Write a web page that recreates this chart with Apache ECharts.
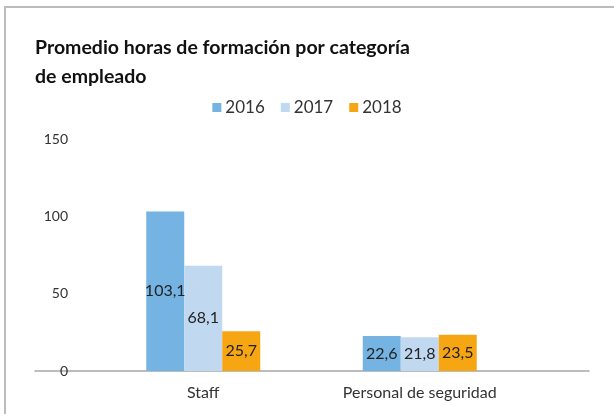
<!DOCTYPE html>
<html><head><meta charset="utf-8">
<script src="https://cdn.jsdelivr.net/npm/echarts@6/dist/echarts.min.js"></script>
<style>html,body{margin:0;padding:0;background:#fff}#c{width:614px;height:414px}</style>
</head><body><div id="c"></div>
<script>
const categories = ['Staff', 'Personal de seguridad'];
const years = ['2016', '2017', '2018'];
const v2016 = [103.1, 22.6];
const v2017 = [68.1, 21.8];
const v2018 = [25.7, 23.5];
const yTicks = [0, 50, 100, 150];
const colors = ['#74b3e2', '#c0d8f0', '#f7a613'];
const seriesValues = [v2016, v2017, v2018];
const FONT = 'Lato';

const chart = echarts.init(document.getElementById('c'));
chart.setOption({
  animation: false,
  title: {
    text: 'Promedio horas de formación por categoría\nde empleado',
    left: 35, top: 33, padding: 0,
    textStyle: { fontFamily: FONT, fontWeight: 'bold', fontSize: 19.5, lineHeight: 29, color: '#111' }
  },
  legend: {
    data: years, top: 94, left: 'center',
    itemWidth: 9, itemHeight: 9, itemGap: 16, icon: 'rect',
    textStyle: { fontFamily: FONT, fontSize: 17, color: '#333', padding: [0, 0, 0, -1] }
  },
  graphic: [{
    type: 'polyline',
    shape: { points: [[5, 414], [5, 7], [614, 7]] },
    style: { stroke: '#bcbcbc', lineWidth: 2, fill: null }
  }],
  grid: [
    { left: 35, right: 25, top: 139, bottom: 43 },
    { left: 95, right: 86, top: 139, bottom: 43 }
  ],
  xAxis: [
    { gridIndex: 0, type: 'value', min: 0, max: 1, axisLabel: { show: false }, axisTick: { show: false }, splitLine: { show: false },
      axisLine: { show: true, lineStyle: { color: '#a6a6a6', width: 1.5 } } },
    { gridIndex: 1, type: 'category', data: categories, axisLine: { show: false }, axisTick: { show: false },
      axisLabel: { margin: 14, fontFamily: FONT, fontSize: 16, color: '#333' } }
  ],
  yAxis: [
    { gridIndex: 0, type: 'value', min: 0, max: 150, show: false },
    { gridIndex: 1, type: 'value', min: 0, max: 150, interval: 50, splitLine: { show: false },
      axisLine: { show: false }, axisTick: { show: false },
      axisLabel: { margin: 27, fontFamily: FONT, fontSize: 14, color: '#333', verticalAlign: 'middle' } }
  ],
  series: years.map((y, i) => ({
    name: y, type: 'bar', xAxisIndex: 1, yAxisIndex: 1,
    data: seriesValues[i], barWidth: 38, barGap: '0%',
    itemStyle: { color: colors[i] },
    label: { show: true, position: 'inside', fontFamily: FONT, fontSize: 16, color: '#222',
      formatter: p => String(p.value).replace('.', ',') }
  }))
});
</script></body></html>
